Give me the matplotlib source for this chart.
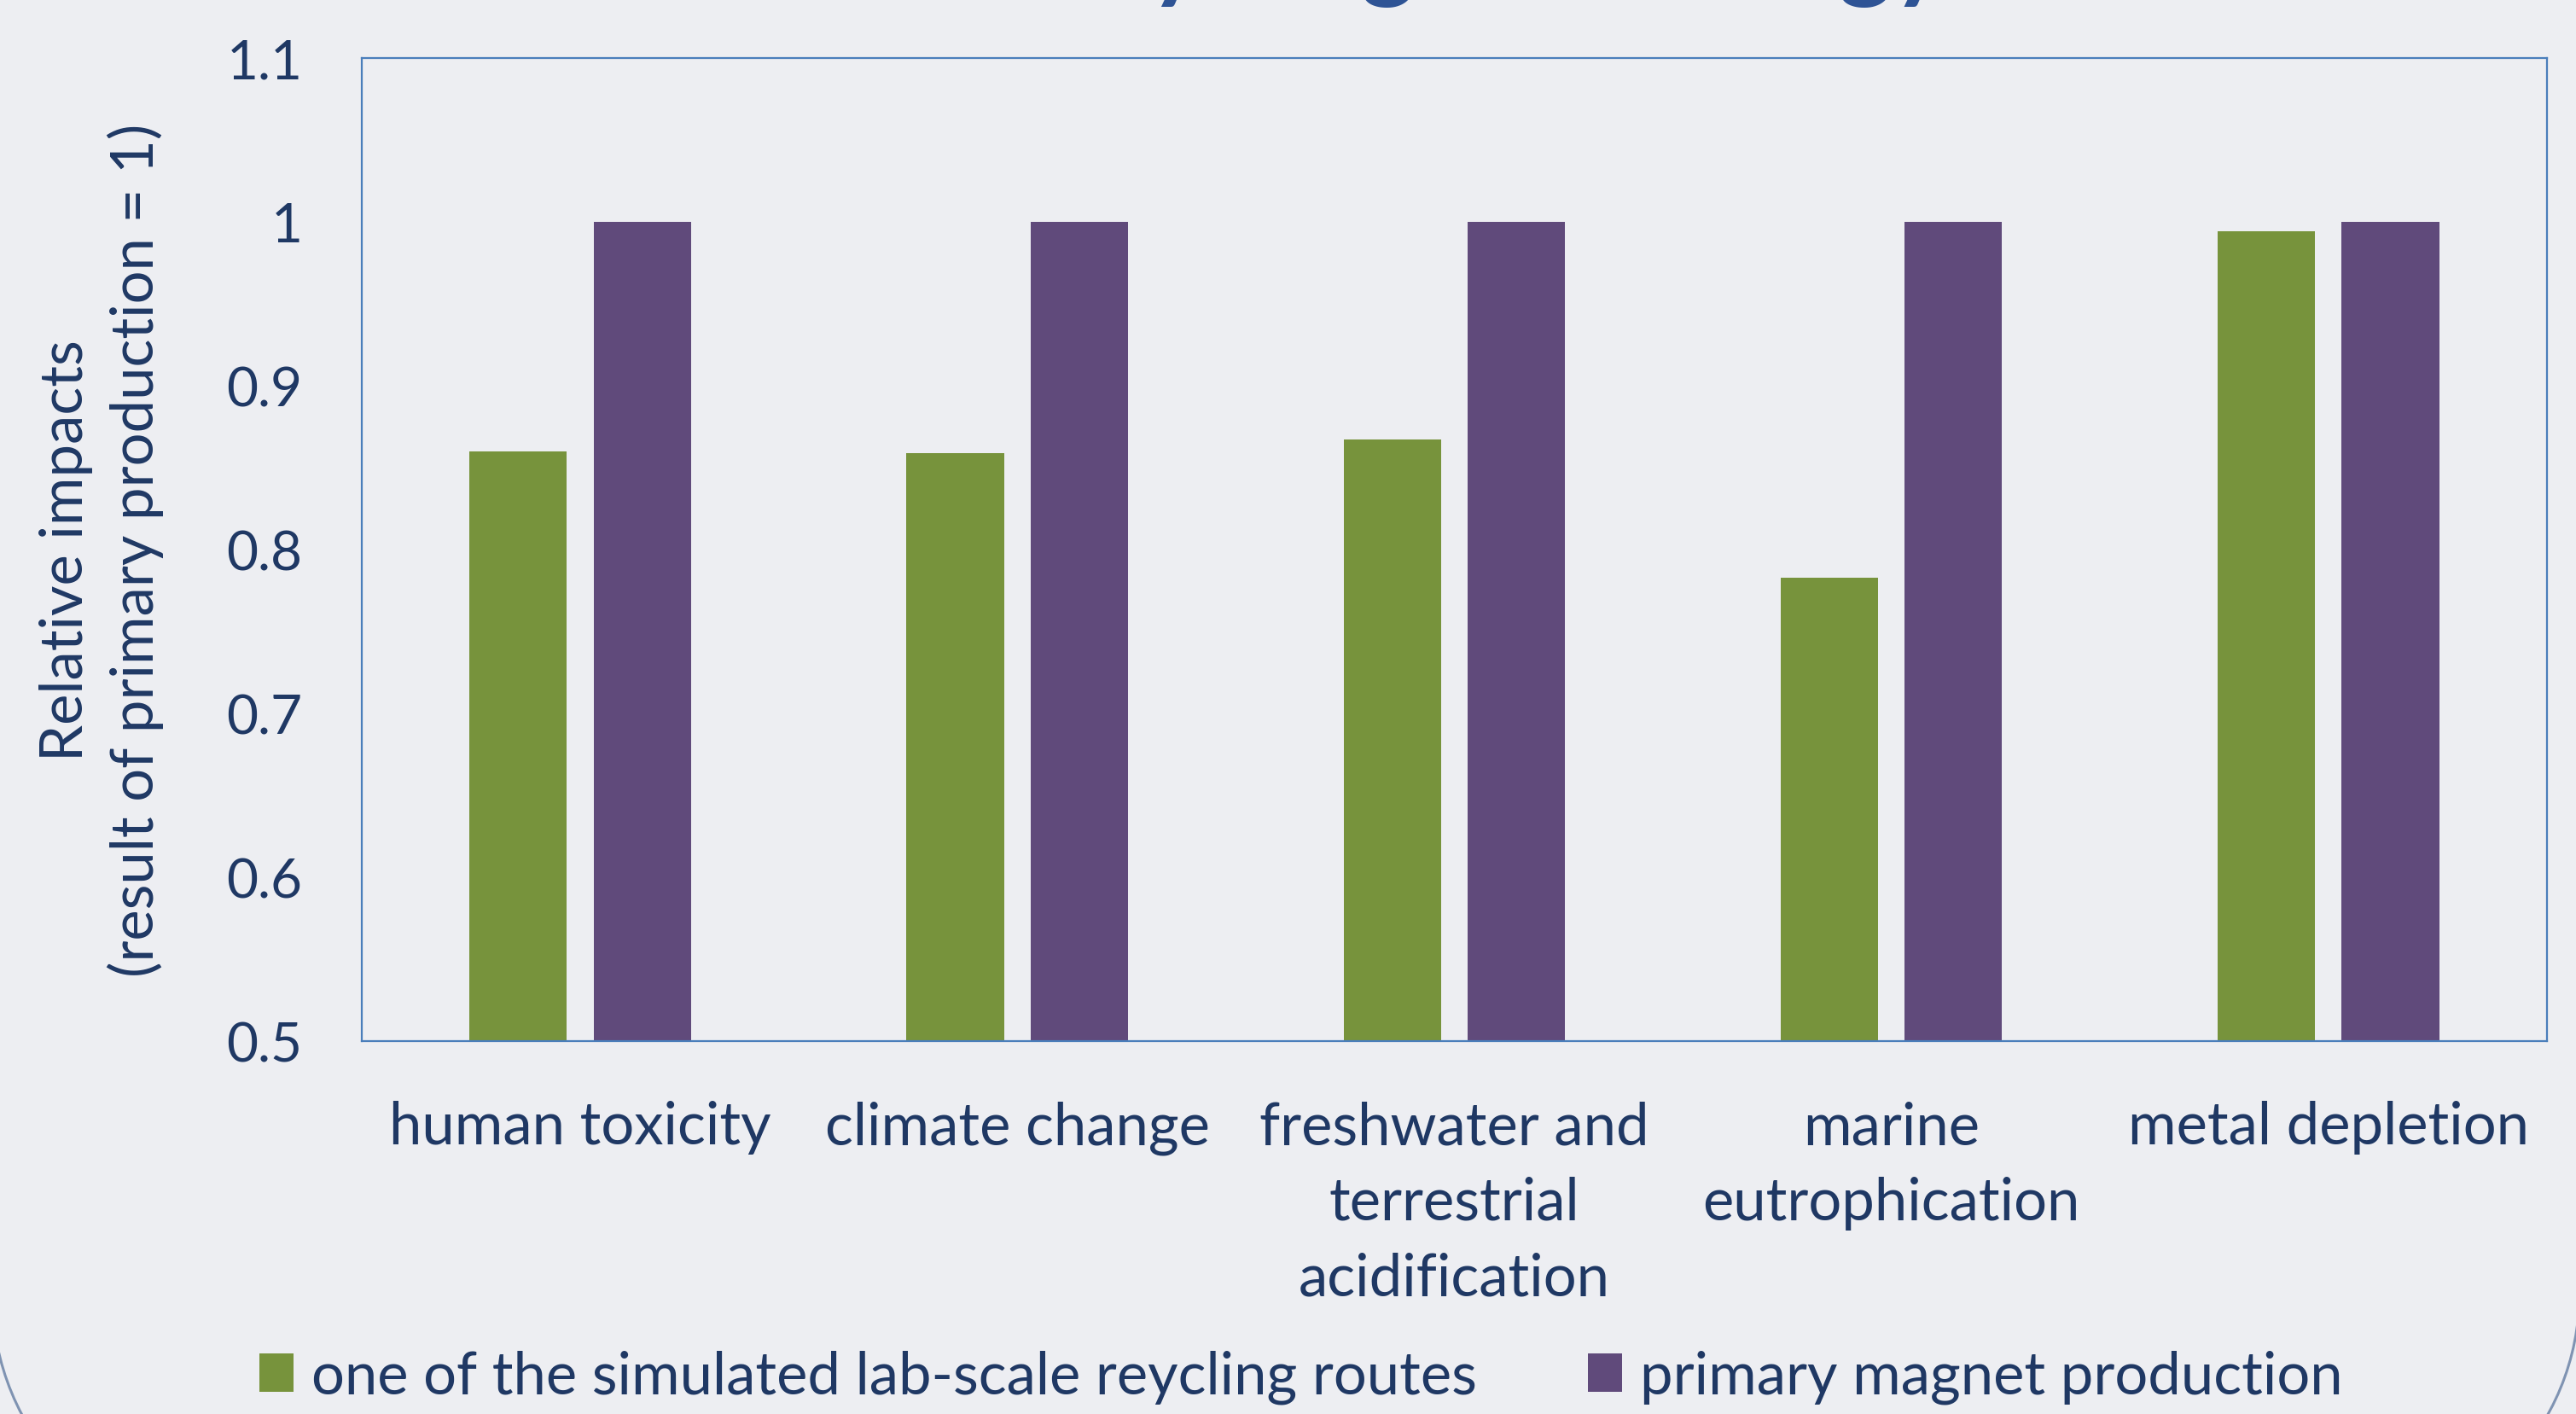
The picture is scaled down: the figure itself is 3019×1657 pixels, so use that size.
import matplotlib.pyplot as plt
import numpy as np
from matplotlib.patches import Arc, Patch

categories = ["human toxicity", "climate change", "freshwater and\nterrestrial\nacidification",
              "marine\neutrophication", "metal depletion"]
recycling = [0.86, 0.859, 0.867, 0.783, 0.994]
primary = [1.0, 1.0, 1.0, 1.0, 1.0]
yticks = [0.5, 0.6, 0.7, 0.8, 0.9, 1.0, 1.1]
ytick_labels = ["0.5", "0.6", "0.7", "0.8", "0.9", "1", "1.1"]

bg = '#EDEEF2'
txt = '#1F3864'
green = '#77933C'
purple = '#604A7B'

plt.rcParams['font.family'] = ['Lato', 'DejaVu Sans']

fig = plt.figure(figsize=(30.19, 16.58), dpi=100, facecolor=bg)

# rounded corners of the chart frame (bottom left / bottom right)
for cx, cy, r, t1, t2 in [(2.90, 1.39, 2.99, 180, 270), (27.30, 1.42, 2.93, 270, 360)]:
    fig.patches.append(Arc((cx, cy), 2 * r, 2 * r, theta1=t1, theta2=t2,
                           transform=fig.dpi_scale_trans, color='#7F93B2', lw=2.2))

ax = fig.add_axes([0.1404, 0.2636, 0.8483, 0.6948])
ax.set_facecolor(bg)

x = np.arange(len(categories))
w = 0.223
off = 0.142
ax.bar(x - off, recycling, w, color=green, zorder=2)
ax.bar(x + off, primary, w, color=purple, zorder=2)

ax.set_xlim(-0.5, len(categories) - 0.5)
ax.set_ylim(0.5, 1.1)
ax.set_yticks(yticks)
ax.set_yticklabels(ytick_labels, fontsize=46)
ax.set_xticks(x)
ax.set_xticklabels(categories, linespacing=1.5, fontsize=49.5)
ax.tick_params(axis='both', length=0, colors=txt)
ax.tick_params(axis='y', pad=50)
ax.tick_params(axis='x', pad=50)

for s in ax.spines.values():
    s.set_color('#4A7EBB')
    s.set_linewidth(1.6)

fig.text(119 / 3019, 1 - 645 / 1658,
         "Relative impacts\n(result of primary production = 1)",
         rotation=90, ha='center', va='center', fontsize=49.5, color=txt,
         linespacing=1.3, multialignment='center')

# title, mostly cut off at the top edge
fig.text(1715 / 3019, 1.0075, "Recycling technology", ha='center', va='baseline',
         fontsize=86, fontweight='bold', color='#2E5395')

handles = [Patch(facecolor=green), Patch(facecolor=purple)]
fig.legend(handles, ["one of the simulated lab-scale reycling routes", "primary magnet production"],
           loc='center', bbox_to_anchor=(1525 / 3019, 1 - 1614 / 1658), ncol=2,
           frameon=False, fontsize=49.5, labelcolor=txt, handlelength=0.58,
           handleheight=0.63, handletextpad=0.3, columnspacing=1.9)

fig.savefig("out.png", dpi=100, facecolor=bg)
